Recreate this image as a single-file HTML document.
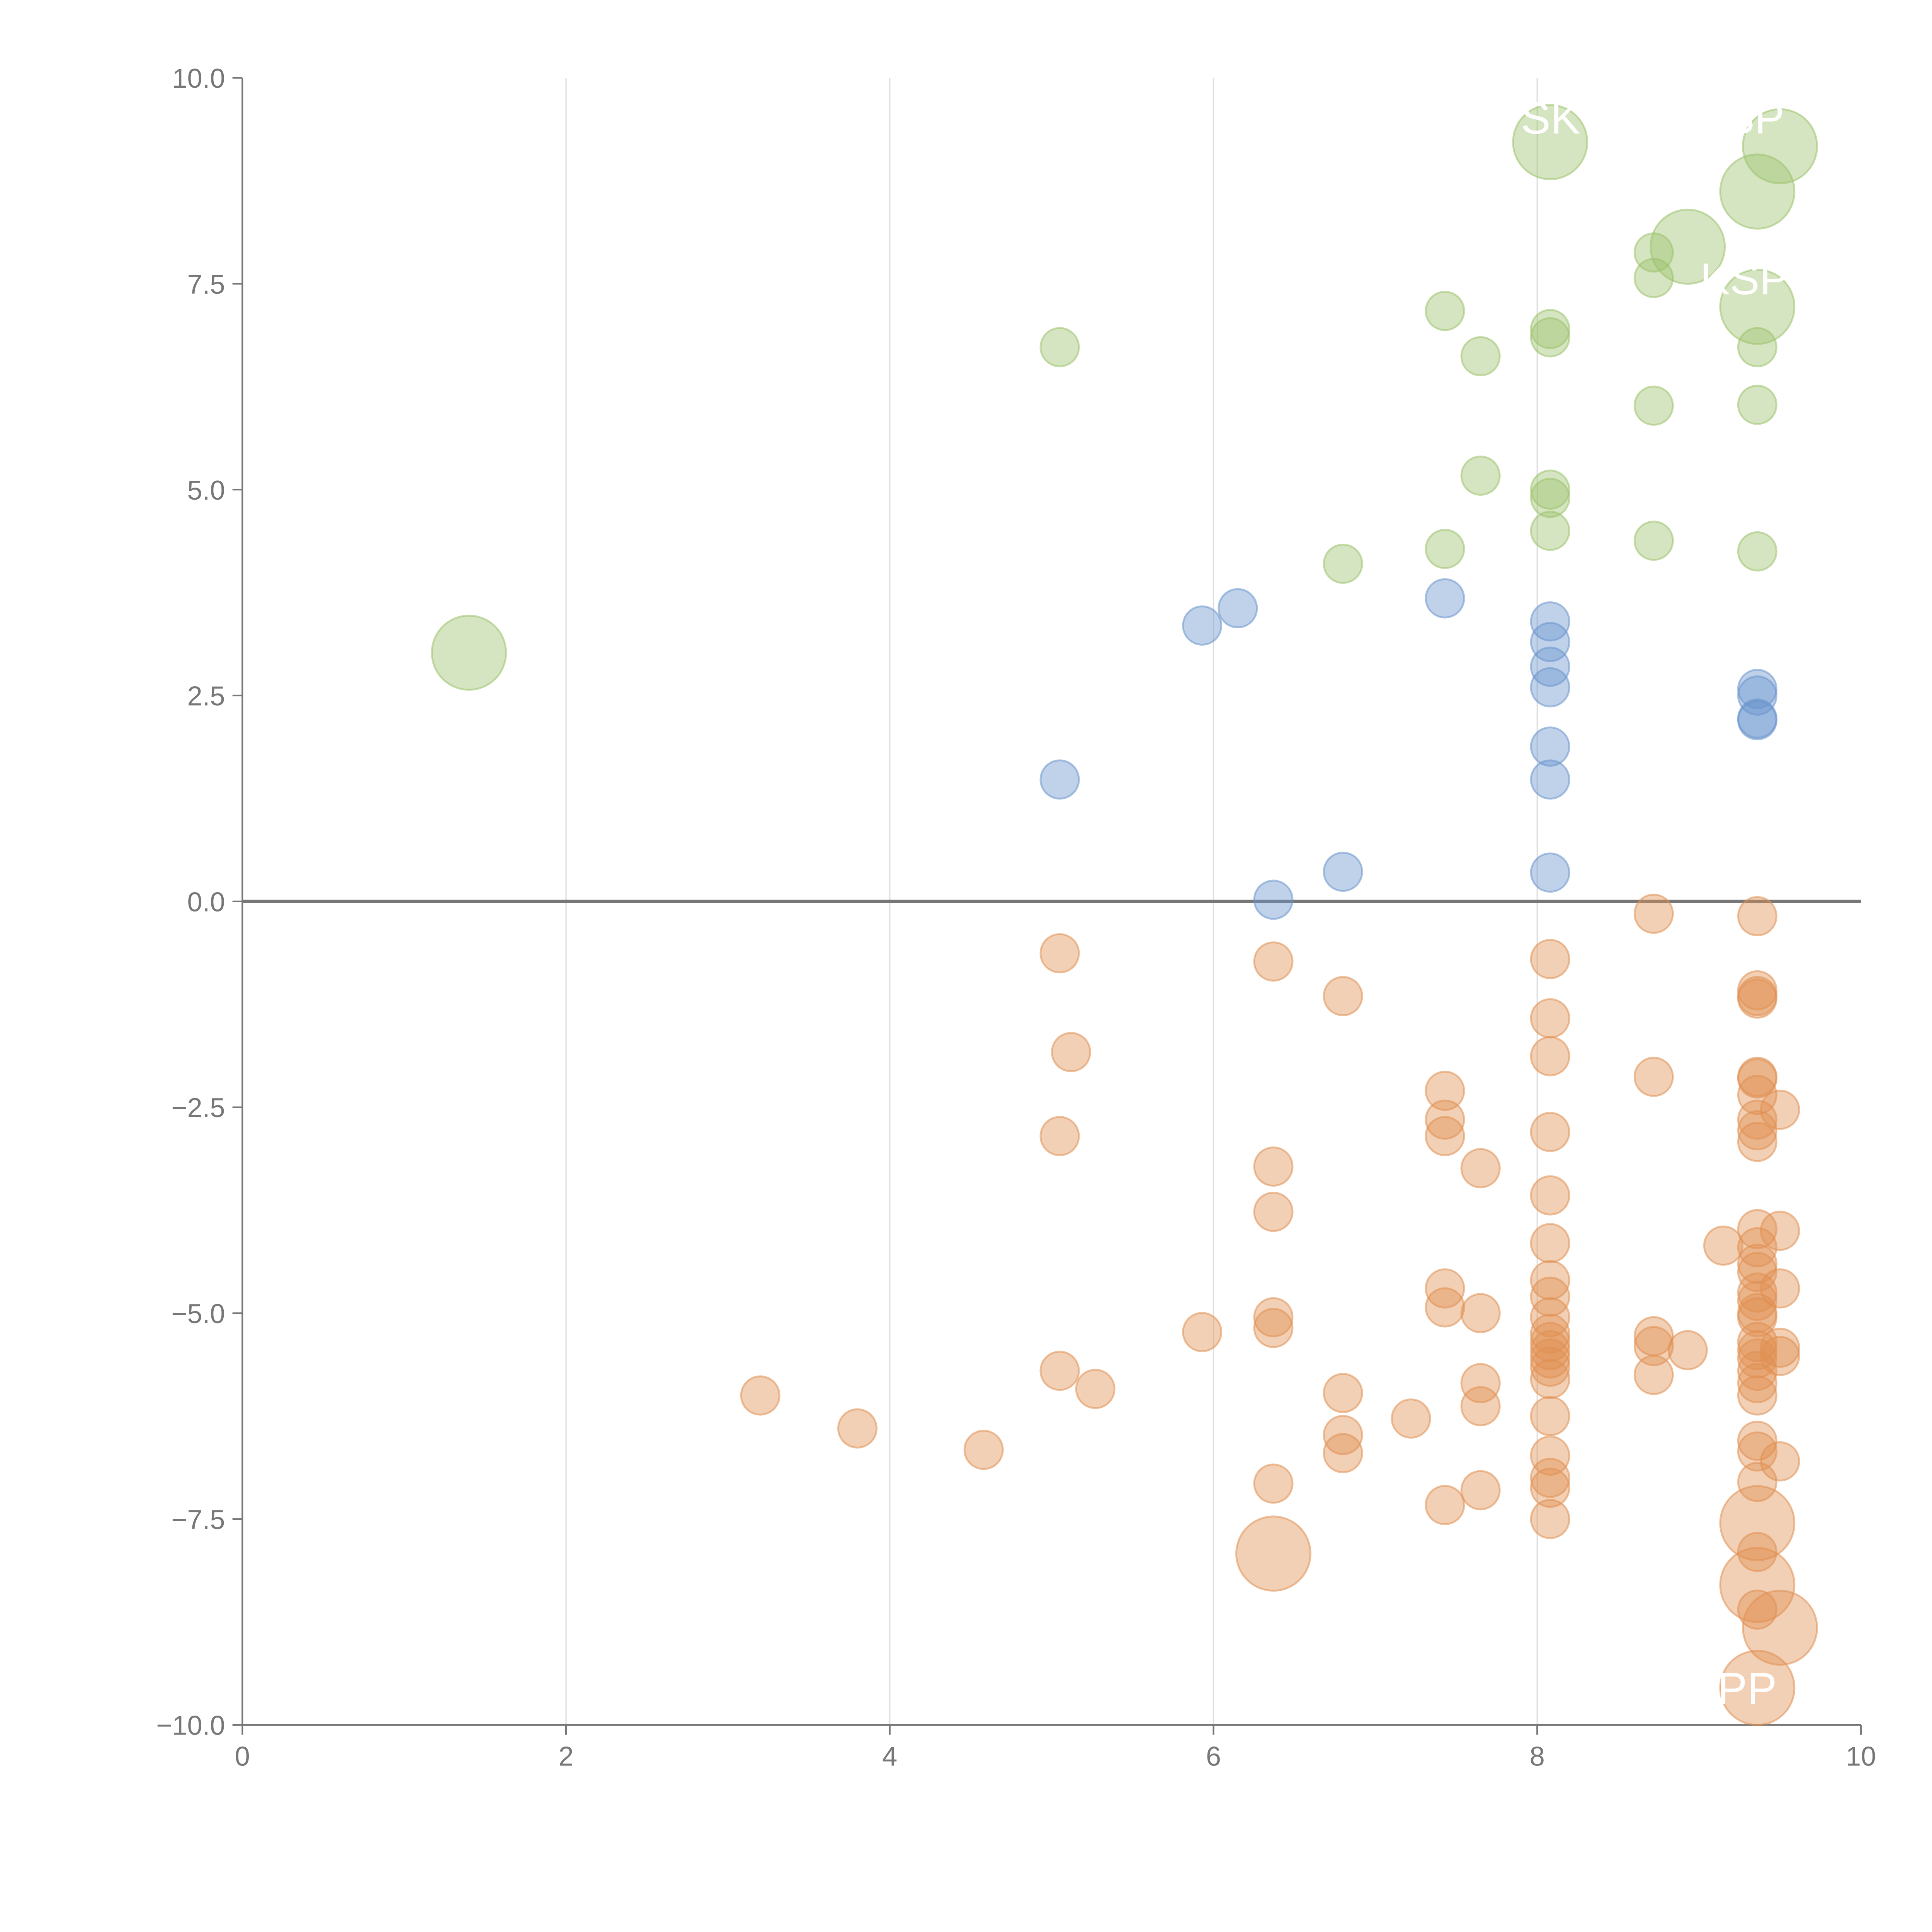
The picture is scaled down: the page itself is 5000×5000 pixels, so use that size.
<!DOCTYPE html>
<html><head><meta charset="utf-8"><style>
html,body{margin:0;padding:0;background:#fff;}
svg{display:block;font-family:"Liberation Sans",Arial,sans-serif;}
</style></head><body>
<svg id="chart" width="5000" height="5000" viewBox="0 0 1562.5 1562.5" xmlns="http://www.w3.org/2000/svg">
<g id="grid"></g>
<g id="axes"></g>
<g id="marks"></g>
<g id="labels"></g>
</svg>
<script>
const xTicks = [0, 2, 4, 6, 8, 10];
const yTicks = [10, 7.5, 5, 2.5, 0, -2.5, -5, -7.5, -10];
const yTickLabels = ["10.0", "7.5", "5.0", "2.5", "0.0", "\u22122.5", "\u22125.0", "\u22127.5", "\u221210.0"];
const greenX = [1.4,5.05,6.8,7.43,7.43,7.65,7.65,8.08,8.08,8.08,8.08,8.08,8.08,8.72,8.72,8.72,8.72,8.93,9.36,9.5,9.36,9.36,9.36,9.36];
const greenY = [3.02,6.73,4.1,7.17,4.28,6.62,5.17,6.95,6.85,5.0,4.9,4.5,9.22,7.88,7.57,6.02,4.38,7.95,8.62,9.17,7.22,6.73,6.03,4.25];
const greenS = [2,1,1,1,1,1,1,1,1,1,1,1,2,1,1,1,1,2,2,2,2,1,1,1];
const blueX = [5.05,5.93,6.15,6.37,6.8,7.43,8.08,8.08,8.08,8.08,8.08,8.08,8.08,9.36,9.36,9.36,9.36];
const blueY = [1.48,3.35,3.56,0.02,0.36,3.68,3.4,3.15,2.85,2.6,1.88,1.48,0.35,2.58,2.5,2.22,2.2];
const orangeX = [3.2,3.8,4.58,5.05,5.12,5.05,5.05,5.27,5.93,6.37,6.37,6.37,6.37,6.37,6.37,6.37,6.8,6.8,6.8,6.8,7.22,7.43,7.43,7.43,7.43,7.43,7.43,7.65,7.65,7.65,7.65,7.65,
 8.08,8.08,8.08,8.08,8.08,8.08,8.08,8.08,8.08,8.08,8.08,8.08,8.08,8.08,8.08,8.08,8.08,8.08,8.08,8.08,
 8.72,8.72,8.72,8.72,8.72,8.93,9.15,
 9.36,9.36,9.36,9.36,9.36,9.36,9.36,9.36,9.36,9.36,9.36,9.36,9.36,9.36,9.36,9.36,9.36,9.36,9.36,9.36,9.36,9.36,9.36,9.36,9.36,9.36,9.36,9.36,9.36,
 9.36,9.36,9.36,9.5,
 9.5,9.5,9.5,9.5,9.5,9.5];
const orangeY = [-6.0,-6.4,-6.66,-0.63,-1.83,-2.85,-5.7,-5.92,-5.23,-0.73,-3.22,-3.77,-5.05,-5.18,-7.07,-7.92,-1.15,-5.97,-6.48,-6.7,-6.28,-2.3,-2.65,-2.85,-4.7,-4.93,-7.33,-3.24,-5.0,-5.85,-6.13,-7.15,
 -0.7,-1.42,-1.88,-2.8,-3.57,-4.15,-4.6,-4.8,-5.05,-5.25,-5.35,-5.45,-5.55,-5.65,-5.8,-6.25,-6.73,-7.0,-7.12,-7.5,
 -0.15,-2.13,-5.28,-5.4,-5.75,-5.45,-4.18,
 -0.18,-1.08,-1.15,-1.18,-2.13,-2.15,-2.35,-2.65,-2.78,-2.92,-3.98,-4.2,-4.4,-4.5,-4.75,-4.85,-5.0,-5.05,-5.35,-5.45,-5.55,-5.7,-5.85,-6.0,-6.55,-6.68,-7.05,-7.9,-8.6,
 -7.55,-8.3,-9.55,-8.82,
 -2.53,-4.0,-4.7,-5.42,-5.52,-6.8];
const orangeS = orangeX.map((v,i)=> (i===15 || (i>=88 && i<=91)) ? 2 : 1);

const X0=196, X1=1505, Y0=1395, Y1=63;
function sx(v){return X0+(v-0)/(10-0)*(X1-X0);}
function sy(v){return Y0-(v+10)/20*(Y0-Y1);}
const NS="http://www.w3.org/2000/svg";
function mk(tag,attrs,parent){const e=document.createElementNS(NS,tag);for(const k in attrs)e.setAttribute(k,attrs[k]);parent.appendChild(e);return e;}
const grid=document.getElementById('grid'),axes=document.getElementById('axes'),marks=document.getElementById('marks'),labels=document.getElementById('labels');

xTicks.forEach(t=>{
  if(t>0&&t<10){
    const g=mk('line',{x1:sx(t),x2:sx(t),y1:Y1,y2:Y0,stroke:'#dddddd','stroke-width':1},grid);
    
    
  }
  const tk=mk('line',{x1:sx(t),x2:sx(t),y1:Y0,y2:Y0+8,stroke:'#777','stroke-width':1.3},axes);
  
  
  const tl=mk('text',{x:sx(t),y:Y0+33,'text-anchor':'middle','font-size':22,fill:'#777'},axes);
  tl.textContent=String(t);
  
  
});
yTicks.forEach((t,i)=>{
  const tk=mk('line',{x1:X0-8,x2:X0,y1:sy(t),y2:sy(t),stroke:'#777','stroke-width':1.3},axes);
  
  
  const tl=mk('text',{x:X0-14,y:sy(t)+8,'text-anchor':'end','font-size':22,fill:'#777'},axes);
  tl.textContent=yTickLabels[i];
  
  
});
const ls=mk('line',{x1:X0,x2:X0,y1:Y1,y2:Y0,stroke:'#777','stroke-width':1.3},axes);


const bs=mk('line',{x1:X0,x2:X1,y1:Y0,y2:Y0,stroke:'#777','stroke-width':1.3},axes);


const zl=mk('line',{x1:X0,x2:X1,y1:sy(0),y2:sy(0),stroke:'#777','stroke-width':2.6},axes);



function series(xs,ys,ss,color,name){
  xs.forEach((x,i)=>{
    const r = ss[i]===2 ? 30 : 15.5;
    const c=mk('circle',{cx:sx(x),cy:sy(ys[i]),r:r,fill:color,'fill-opacity':0.42,stroke:color,'stroke-opacity':0.55,'stroke-width':1.5},marks);
    
    
  });
}
series(greenX,greenY,greenS,'#9cc26b','point-positive-high');
series(blueX,blueY,blueX.map(()=>1),'#6a93cc','point-positive-low');
series(orangeX,orangeY,orangeS,'#e08f52','point-negative');

[[1230,108,"SK"],[1395,108,"SP"],[1375,238,"KSP"],[1365,1378,"APP"]].forEach(d=>{
  const t=mk('text',{x:d[0],y:d[1],'font-size':36,fill:'#ffffff'},labels);
  t.textContent=d[2];
  
  
});
</script>
</body></html>
